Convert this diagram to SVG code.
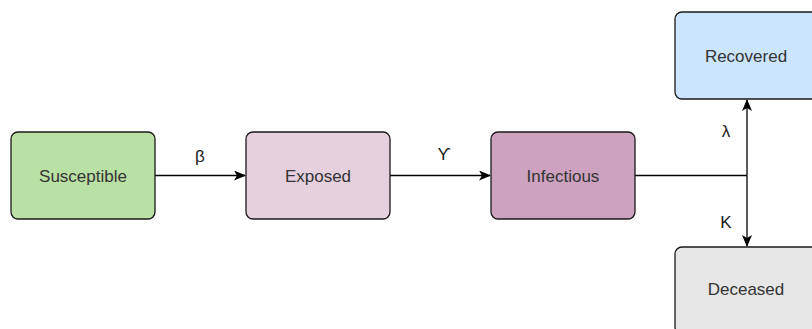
<svg xmlns="http://www.w3.org/2000/svg" width="812" height="329" viewBox="0 0 812 329">
  <style>
    .box { stroke: #1a1a1a; stroke-width: 1.3; }
    .lbl { font-family: "Liberation Sans", Arial, sans-serif; font-size: 17px; fill: #333333; text-anchor: middle; }
    .rate { font-family: "Liberation Sans", Arial, sans-serif; font-size: 17px; fill: #1a1a1a; text-anchor: middle; }
    .edge { stroke: #000000; stroke-width: 1.3; fill: none; }
  </style>
  <defs>
    <marker id="arrow" viewBox="0 0 12 10" refX="11" refY="5" markerWidth="12" markerHeight="10" markerUnits="userSpaceOnUse" orient="auto">
      <path d="M0,0 L12,5 L0,10 L3,5 Z" fill="#000000"/>
    </marker>
  </defs>
  <rect width="812" height="329" fill="#ffffff"/>

  <g id="connectors">
    <path class="edge" d="M155,175.5 H245" marker-end="url(#arrow)"/>
    <path class="edge" d="M390,175.5 H490" marker-end="url(#arrow)"/>
    <path class="edge" d="M635,175.5 H747"/>
    <path class="edge" d="M747,175.5 V100" marker-end="url(#arrow)"/>
    <path class="edge" d="M747,175.5 V246" marker-end="url(#arrow)"/>
    <text class="rate" x="200" y="162">β</text>
    <text class="rate" x="444" y="160">ϒ</text>
    <text class="rate" x="726" y="137">λ</text>
    <text class="rate" x="726" y="228">Κ</text>
  </g>

  <g id="susceptible">
    <rect class="box" x="11" y="132" width="144" height="87" rx="7" fill="#b9e0a5"/>
    <text class="lbl" x="83" y="181.5">Susceptible</text>
  </g>
  <g id="exposed">
    <rect class="box" x="246" y="132" width="144" height="87" rx="7" fill="#e6d0de"/>
    <text class="lbl" x="318" y="181.5">Exposed</text>
  </g>
  <g id="infectious">
    <rect class="box" x="491" y="132" width="144" height="87" rx="7" fill="#cda2be"/>
    <text class="lbl" x="563" y="181.5">Infectious</text>
  </g>
  <g id="recovered">
    <rect class="box" x="675" y="12" width="144" height="87" rx="7" fill="#cce5ff"/>
    <text class="lbl" x="746" y="61.5">Recovered</text>
  </g>
  <g id="deceased">
    <rect class="box" x="675" y="247" width="144" height="87" rx="7" fill="#e6e6e6"/>
    <text class="lbl" x="746" y="295">Deceased</text>
  </g>
</svg>
